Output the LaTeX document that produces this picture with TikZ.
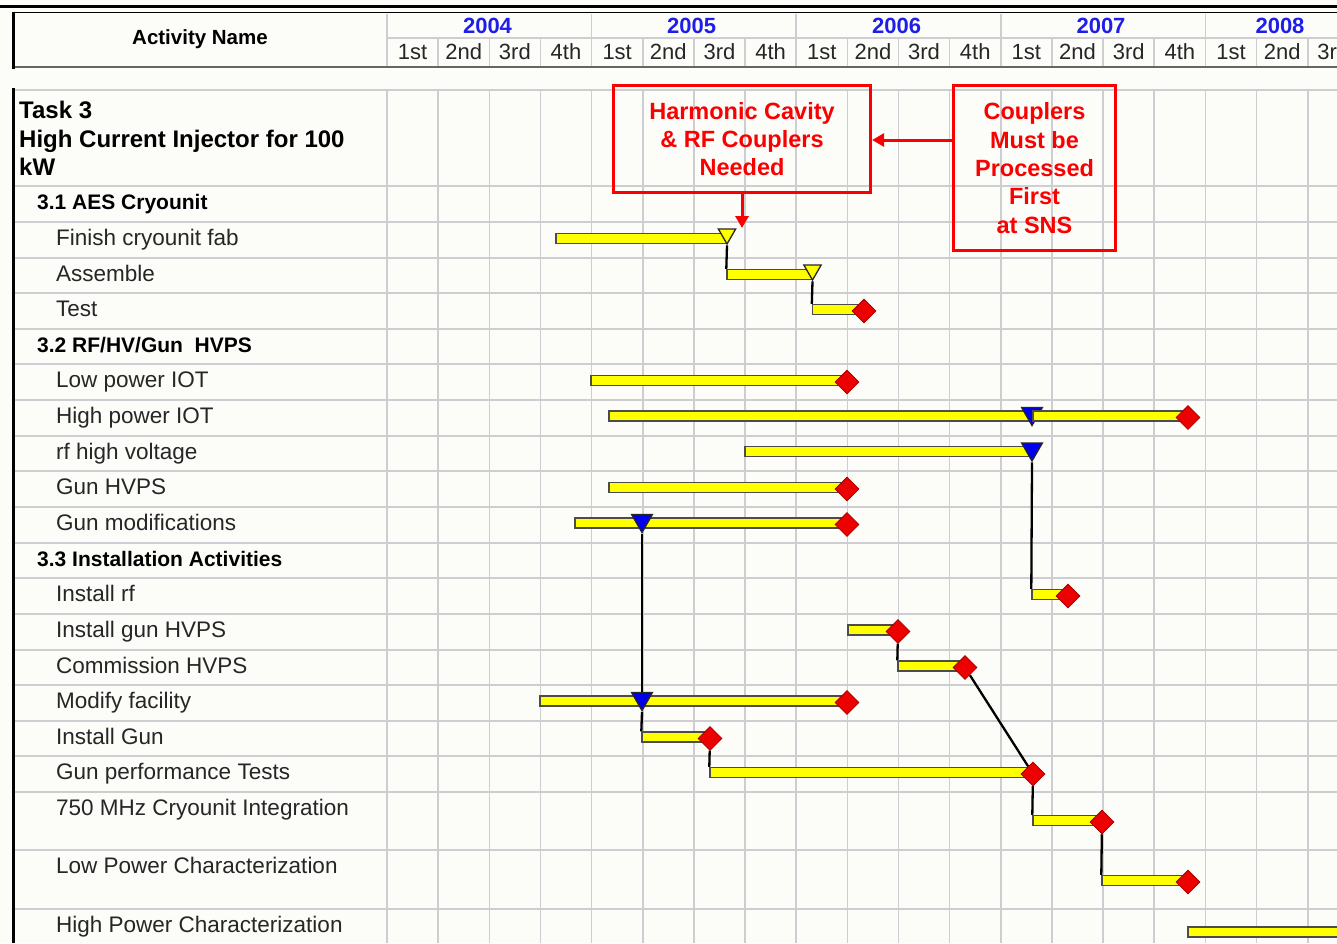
\documentclass[tikz,border=0pt]{standalone}
\usepackage{fontspec}
\setmainfont{Liberation Sans}
\usetikzlibrary{shapes.geometric,arrows.meta}

\definecolor{paper}{RGB}{252,252,249}
\definecolor{rule}{RGB}{206,206,210}
\definecolor{yearblue}{RGB}{30,30,232}
\definecolor{baryellow}{RGB}{255,255,0}
\definecolor{msred}{RGB}{236,0,0}
\definecolor{msblue}{RGB}{0,0,236}
\definecolor{noteRed}{RGB}{250,0,0}

\newcommand{\fsz}[1]{\fontsize{#1}{#1}\selectfont}
% gantt bar: name, start x, end x, centre y
\newcommand{\gbar}[4]{\node[ganttbar, minimum width={(#3-#2)*1pt}] (#1) at ({(#2+#3)/2},#4) {};}

\pgfdeclarelayer{back}
\pgfsetlayers{back,main}

\begin{document}
\begin{tikzpicture}[x=1pt,y=-1pt,
  gridline/.style={draw=rule, line width=1.6},
  itemlabel/.style={anchor=base west, inner sep=0, font=\fsz{22.5}, text=black!85},
  grouplabel/.style={anchor=base west, inner sep=0, font=\fsz{21}\bfseries},
  tasklabel/.style={anchor=base west, inner sep=0, font=\fsz{24}\bfseries},
  quarterlabel/.style={anchor=base, inner sep=0, font=\fsz{22}, text=black!85},
  yearlabel/.style={anchor=base, inner sep=0, font=\fsz{22}\bfseries, text=yearblue},
  ganttbar/.style={rectangle, draw=black!70, line width=1.4, fill=baryellow, minimum height=10, inner sep=0},
  finish/.style={diamond, fill=msred, draw=msred!70!black, line width=0.8, minimum width=24, minimum height=24, inner sep=0},
  marker/.style={regular polygon, regular polygon sides=3, shape border rotate=180, inner sep=0, draw=black!85, line width=1.3},
  ymark/.style={marker, fill=baryellow, minimum size=20},
  bmark/.style={marker, fill=msblue, minimum size=24},
  link/.style={draw=black, line width=2.3},
  note/.style={rectangle, draw=noteRed, line width=3.2, inner sep=0, align=center, text=noteRed, font=\fontsize{23.5}{28.3}\selectfont\bfseries},
  notearrow/.style={draw=noteRed, line width=3, -{Triangle[length=12pt,width=13pt]}},
]
\useasboundingbox (0,0) rectangle (1337,943);

% ---------- header ----------
\draw[black, line width=2.5] (0,6.5) -- (1337,6.5);
\draw[black, line width=1.8] (13,12.5) -- (1337,12.5);
\draw[gridline] (387,38) -- (1337,38);
\foreach \k in {0,4,8,12,16} \draw[gridline] ({387+51.15*\k},13.5) -- ({387+51.15*\k},38);
\foreach \k in {0,...,18} \draw[gridline] ({387+51.15*\k},38) -- ({387+51.15*\k},66);
\draw[black!60, line width=2.8] (13,67) -- (1337,67);
\draw[black, line width=3] (13.5,11.5) -- (13.5,68.5);

\node[anchor=base, inner sep=0, font=\fsz{20.5}\bfseries] (hdr) at (200,44.5) {Activity Name};
\node[yearlabel] (y2004) at (487.5,33.3) {2004};
\node[yearlabel] (y2005) at (691.7,33.3) {2005};
\node[yearlabel] (y2006) at (896.7,33.3) {2006};
\node[yearlabel] (y2007) at (1101,33.3) {2007};
\node[yearlabel] (y2008) at (1280,33.3) {2008};
\foreach \q [count=\k from 0] in {1st,2nd,3rd,4th,1st,2nd,3rd,4th,1st,2nd,3rd,4th,1st,2nd,3rd,4th,1st,2nd,3rd}
  \node[quarterlabel] (q\k) at ({387+51.15*(\k+0.5)},59.3) {\q};

% ---------- activity names ----------
\node[tasklabel] (task1) at (19,118) {Task 3};
\node[tasklabel] (task2) at (19,147) {High Current Injector for 100};
\node[tasklabel] (task3) at (19,175.5) {kW};
\node[grouplabel] (g1) at (37,209) {3.1 AES Cryounit};
\node[itemlabel] (a2) at (56,245) {Finish cryounit fab};
\node[itemlabel] (a3) at (56,281) {Assemble};
\node[itemlabel] (a4) at (56,316) {Test};
\node[grouplabel] (g2) at (37,352) {3.2 RF/HV/Gun~~HVPS};
\node[itemlabel] (a6) at (56,387) {Low power IOT};
\node[itemlabel] (a7) at (56,423) {High power IOT};
\node[itemlabel] (a8) at (56,459) {rf high voltage};
\node[itemlabel] (a9) at (56,494) {Gun HVPS};
\node[itemlabel] (a10) at (56,530) {Gun modifications};
\node[grouplabel] (g3) at (37,566) {3.3 Installation Activities};
\node[itemlabel] (a12) at (56,601) {Install rf};
\node[itemlabel] (a13) at (56,637) {Install gun HVPS};
\node[itemlabel] (a14) at (56,673) {Commission HVPS};
\node[itemlabel] (a15) at (56,708) {Modify facility};
\node[itemlabel] (a16) at (56,744) {Install Gun};
\node[itemlabel] (a17) at (56,779) {Gun performance Tests};
\node[itemlabel] (a18) at (56,815) {750 MHz Cryounit Integration};
\node[itemlabel] (a19) at (56,873) {Low Power Characterization};
\node[itemlabel] (a20) at (56,932) {High Power Characterization};

% ---------- bars and milestones ----------
\gbar{b2}{556}{727}{238.5}
\node[ymark] (m2) at (727,234) {};
\gbar{b3}{727}{812.5}{274.5}
\node[ymark] (m3) at (812.5,270) {};
\gbar{b4}{812.5}{864}{309.5}
\node[finish] (m4) at (864,311) {};

\gbar{b6}{591}{847}{380.5}
\node[finish] (m6) at (847,382) {};
\gbar{b7}{609}{1032}{416}
\node[bmark] (m7a) at (1032,413.5) {};
\gbar{b7r}{1033}{1188}{416}
\node[finish] (m7) at (1188,417.5) {};
\gbar{b8}{745}{1032}{451.5}
\node[bmark] (m8) at (1032,449) {};
\gbar{b9}{609}{847}{487.5}
\node[finish] (m9) at (847,489) {};
\gbar{b10}{575}{847}{523}
\node[bmark] (m10a) at (642,520.5) {};
\node[finish] (m10) at (847,524.5) {};

\gbar{b12}{1032}{1068}{594.5}
\node[finish] (m12) at (1068,596) {};
\gbar{b13}{848}{898}{630}
\node[finish] (m13) at (898,631.5) {};
\gbar{b14}{898}{965}{666}
\node[finish] (m14) at (965,667.5) {};
\gbar{b15}{540}{847}{701}
\node[bmark] (m15a) at (642,698.5) {};
\node[finish] (m15) at (847,702.5) {};
\gbar{b16}{642}{710}{737}
\node[finish] (m16) at (710,738.5) {};
\gbar{b17}{710}{1033}{772.5}
\node[finish] (m17) at (1033,774) {};
\gbar{b18}{1033}{1102}{820.5}
\node[finish] (m18) at (1102,822) {};
\gbar{b19}{1102}{1188}{880.5}
\node[finish] (m19) at (1188,882) {};
\gbar{b20}{1188}{1360}{932}

% ---------- notes ----------
\node[note, minimum width=257, minimum height=107] (n1) at (742,139) {Harmonic Cavity\\\& RF Couplers\\Needed};
\node[note, minimum width=162, minimum height=165] (n2) at (1034.5,168) {Couplers\\Must be\\Processed\\First\\at SNS};
\coordinate (ny) at (0,140);
\coordinate (ntip) at (742,228);
\draw[notearrow] (n2.west |- ny) -- (n1.east |- ny);
\draw[notearrow] (n1.south) -- (ntip);

% ---------- grid, borders and dependency links (behind) ----------
\begin{pgfonlayer}{back}
  \fill[paper] (0,0) rectangle (1337,943);
  \foreach \k in {0,...,18} \draw[gridline] ({387+51.15*\k},90) -- ({387+51.15*\k},943);
  \foreach \y in {90,186,222,258,293,329,364,400,436,471,507,543,578,614,650,685,721,756,792,850,909}
    \draw[gridline] (13,\y) -- (1337,\y);
  \draw[black, line width=3] (13.5,88) -- (13.5,943);

  \draw[link] (m2.south) -- (b3.north west);
  \draw[link] (m3.south) -- (b4.north west);
  \draw[link] (m8.south) -- (b12.north west);
  \draw[link] (m10a.south) -- (m15a.north);
  \draw[link] (m15a.south) -- (b16.north west);
  \draw[link] (m13) -- (b14.north west);
  \draw[link] (m14) -- (m17);
  \draw[link] (m16) -- (b17.north west);
  \draw[link] (m17) -- (b18.north west);
  \draw[link] (m18) -- (b19.north west);
\end{pgfonlayer}
\end{tikzpicture}
\end{document}
